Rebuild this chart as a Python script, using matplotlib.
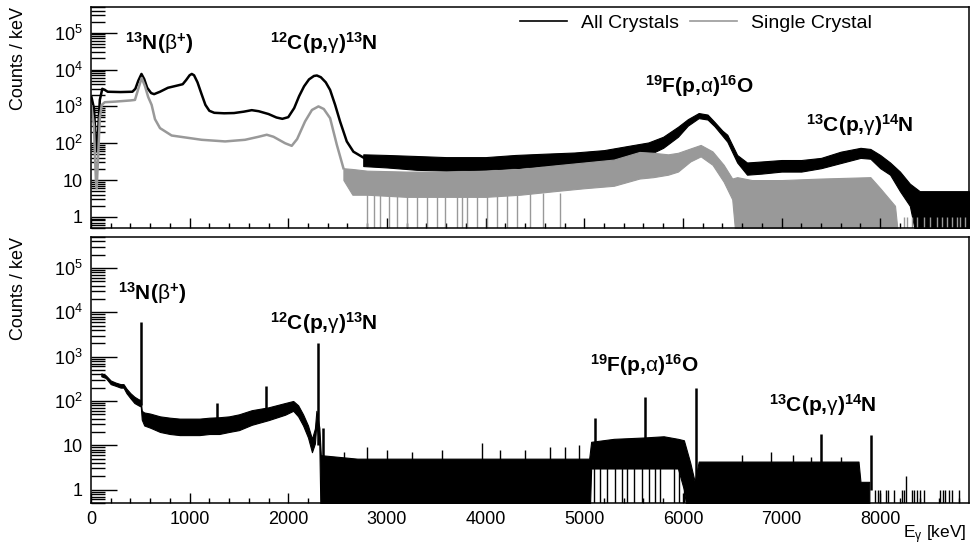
import numpy as np
import matplotlib.pyplot as plt
from matplotlib.lines import Line2D
from matplotlib.ticker import FixedLocator, MultipleLocator, LogLocator, FuncFormatter, NullFormatter

plt.rcParams['font.family'] = ['Liberation Sans', 'DejaVu Sans']
plt.rcParams['mathtext.fontset'] = 'custom'
plt.rcParams['mathtext.rm'] = 'Liberation Sans'
plt.rcParams['mathtext.bf'] = 'Liberation Sans:bold'
plt.rcParams['mathtext.it'] = 'Liberation Sans:italic'

# ---- top panel: all crystals (smooth part, keV / counts per keV)
all_E = [5, 30, 55, 70, 90, 115, 140, 170, 300, 420, 450, 480, 512, 540, 570, 610, 640, 700,
         780, 860, 930, 965, 1000, 1022, 1045, 1080, 1120, 1160, 1200, 1250, 1350, 1450, 1550,
         1630, 1700, 1800, 1880, 1940, 2000, 2060, 2110, 2160, 2210, 2260, 2290, 2330, 2380,
         2424, 2475, 2525, 2593, 2660, 2760]
all_val = [1800, 900, 60, 150, 1500, 3000, 2800, 2500, 2450, 2500, 3000, 5000, 7600, 5500, 3200,
           2300, 2150, 2500, 3200, 3600, 4000, 5200, 7000, 7600, 7000, 4500, 2200, 1100, 760, 670,
           650, 660, 720, 790, 740, 620, 500, 460, 510, 900, 1900, 3500, 5400, 6700, 6900, 6200,
           4500, 2800, 1100, 390, 112, 59, 41]

# all crystals, noisy part: lower / upper edge of the band
all_band_E = [2760, 3000, 3300, 3600, 4000, 4300, 4600, 4900, 5200, 5450, 5650, 5800, 5950, 6050,
              6160, 6250, 6320, 6400, 6450, 6550, 6650, 6800, 7000, 7200, 7400, 7600, 7800, 7900,
              8000, 8100, 8200, 8300, 8400, 8900]
all_band_lo = [24, 22, 19, 18, 19, 21, 24, 26, 30, 38, 48, 75, 150, 300, 480, 440, 290, 160, 110,
               30, 14, 15, 17, 17, 21, 29, 40, 38, 21, 14, 5, 2, 0.1, 0.1]
all_band_hi = [50, 48, 45, 42, 42, 48, 52, 56, 65, 85, 105, 150, 280, 450, 660, 600, 380, 220, 170,
               48, 30, 32, 35, 35, 40, 59, 75, 70, 48, 30, 17, 8, 5, 5]

# ---- top panel: single crystal
single_E = [5, 30, 50, 58, 70, 90, 110, 140, 250, 400, 446, 480, 514, 548, 580, 615, 649, 700,
            818, 1122, 1360, 1562, 1700, 1782, 1850, 1968, 2035, 2090, 2170, 2240, 2306, 2360,
            2424, 2492, 2559]
single_val = [1000, 300, 10, 6, 30, 500, 1100, 1300, 1350, 1450, 1500, 3000, 5900, 3500, 1800, 1100,
              450, 257, 162, 124, 112, 124, 150, 170, 150, 100, 85, 130, 390, 800, 1000, 850,
              480, 91, 21]

single_band_E = [2559, 2650, 2800, 3200, 3600, 4000, 4350, 4700, 5000, 5300, 5560, 5700, 5850, 5950,
                 6075, 6180, 6300, 6413, 6500, 6550, 6700, 7000, 7400, 7900, 8000, 8150, 8200]
single_band_lo = [10, 4, 4, 3.5, 3.5, 3.5, 4, 5, 6, 7, 11, 12, 14, 17, 32, 44, 26, 9, 3, 0.1, 0.1,
                  0.1, 0.1, 0.1, 0.1, 0.1, 0.1]
single_band_hi = [21, 20, 18, 17, 17, 18, 20, 25, 30, 36, 58, 55, 50, 55, 72, 90, 60, 26, 11, 12, 10,
                  10, 11, 12, 6, 2, 0.1]

# empty bins of the single crystal spectrum
single_empty_E = [2796, 2864, 2931, 3016, 3100, 3202, 3303, 3405, 3506, 3591, 3709, 3760, 3810,
                  3912, 4013, 4115, 4216, 4317, 4452, 4587, 4756]
# single counts above the endpoint
single_ones_E = [8238, 8272, 8323, 8374, 8441, 8509, 8577, 8627, 8678, 8729, 8779, 8813, 8864]

# ---- bottom panel (HPGe)
ge_E = [105, 150, 200, 250, 300, 330, 360, 400, 440, 480, 505, 515, 540, 600, 700, 800, 900, 1000,
        1100, 1200, 1300, 1400, 1500, 1630, 1800, 1968, 2050, 2100, 2150, 2200, 2240, 2270, 2285,
        2315, 2330, 2700, 3500, 4500, 5050, 5070, 5300, 5600, 5805, 5950, 6010, 6075, 6120, 6160,
        6600, 7200, 7780, 7800, 7880, 7890]
ge_lo = [360, 330, 240, 220, 200, 200, 150, 115, 90, 80, 75, 38, 28, 25, 20, 18, 17, 17, 17, 18,
         18, 20, 22, 29, 37, 49, 60, 45, 28, 15, 7, 11, 30, 10, 0.1, 0.1, 0.1, 0.1, 0.1, 3, 3, 3,
         3, 3, 1, 0.1, 0.1, 0.1, 0.1, 0.1, 0.1, 0.1, 0.1, 0.1]
ge_hi = [420, 380, 290, 260, 240, 240, 190, 150, 125, 110, 105, 60, 55, 52, 45, 42, 40, 40, 40, 42,
         43, 45, 50, 62, 72, 90, 100, 80, 50, 28, 14, 24, 60, 25, 6, 5, 5, 5, 5, 12, 14, 15, 16, 14,
         13, 4, 1.5, 4.3, 4.3, 4.3, 4.3, 1.5, 1.5, 1.5]

ge_peak_E = [511, 1281, 1779, 2300, 2350, 5107, 5618, 6130, 7397, 7907]
ge_peak_top = [6000, 89, 223, 2000, 24, 42, 120, 200, 18, 17]
ge_peak_base = [80, 25, 45, 10, 2, 10, 10, 1, 3, 1]

ge_spike_E = [2560, 2800, 3000, 3250, 3560, 3960, 4150, 4400, 4650, 4800, 4950,
              6600, 6890, 7120, 7300, 7600]
ge_spike_top = [7, 9, 8, 7, 8, 11, 8, 8, 9, 9, 10, 6, 7, 6, 5.5, 5.5]

ge_empty_E = [5095, 5162, 5230, 5314, 5382, 5432, 5500, 5584, 5652, 5720, 5771, 5906, 5957, 6008]

ge_ones_E = [7951, 7975, 8002, 8060, 8080, 8137, 8222, 8240, 8323, 8340, 8374, 8400, 8441,
             8611, 8640, 8661, 8700, 8729, 8796]
ge_twos_E = [8262]

labels = [r"$^{\mathbf{13}}\mathbf{N(}\mathrm{\beta}^{\mathbf{+}}\mathbf{)}$",
          r"$^{\mathbf{12}}\mathbf{C(p{,}}\mathrm{\gamma}\mathbf{)}^{\mathbf{13}}\mathbf{N}$",
          r"$^{\mathbf{19}}\mathbf{F(p{,}}\mathrm{\alpha}\mathbf{)}^{\mathbf{16}}\mathbf{O}$",
          r"$^{\mathbf{13}}\mathbf{C(p{,}}\mathrm{\gamma}\mathbf{)}^{\mathbf{14}}\mathbf{N}$"]
top_label_pos = [(345, 3.5e4), (1815, 3.5e4), (5620, 2300), (7250, 208)]
bot_label_pos = [(277, 1.9e4), (1815, 4000), (5061, 460), (6870, 57)]

black = 'black'
gray = '#999999'

fig = plt.figure(figsize=(9.78, 5.49), dpi=100)
ax1 = fig.add_axes([0.0930, 0.5847, 0.8978, 0.4026])
ax2 = fig.add_axes([0.0930, 0.0838, 0.8978, 0.4845])


def yfmt(v, pos):
    if v == 1:
        return '1'
    if v == 10:
        return '10'
    return r'$\mathregular{10^{%d}}$' % round(np.log10(v))


for ax in (ax1, ax2):
    ax.set_yscale('log')
    ax.set_ylim(0.5, 5e5)
    ax.set_xlim(0, 8900)
    ax.yaxis.set_major_locator(FixedLocator([1, 10, 1e2, 1e3, 1e4, 1e5]))
    ax.yaxis.set_minor_locator(LogLocator(base=10, subs=np.arange(2, 10), numticks=20))
    ax.yaxis.set_major_formatter(FuncFormatter(yfmt))
    ax.yaxis.set_minor_formatter(NullFormatter())
    ax.xaxis.set_major_locator(MultipleLocator(1000))
    ax.xaxis.set_minor_locator(MultipleLocator(200))
    ax.tick_params(axis='y', which='major', direction='in', length=19, width=1, labelsize=13, pad=6)
    ax.tick_params(axis='y', which='minor', direction='in', length=10, width=1)
    ax.tick_params(axis='x', which='major', direction='in', length=7, width=1, labelsize=13, pad=6)
    ax.tick_params(axis='x', which='minor', direction='in', length=3.5, width=1)
    for s in ax.spines.values():
        s.set_linewidth(1.1)
    ax.set_ylabel('Counts / keV', fontsize=13, loc='top')
    ax.yaxis.set_label_coords(-0.073, 1.0)

ax1.tick_params(axis='x', labelbottom=False)

# top panel
ax1.plot(all_E, all_val, color=black, lw=1.8)
ax1.fill_between(all_band_E, all_band_lo, all_band_hi, color=black, lw=0.8)
ax1.plot(single_E, single_val, color=gray, lw=1.8)
ax1.fill_between(single_band_E, single_band_lo, single_band_hi, color=gray, lw=0.8)
ax1.vlines(single_empty_E, 0.1, 4.5, color=gray, lw=1)
ax1.vlines(single_ones_E, 0.1, 1, color=gray, lw=1)

handles = [Line2D([], [], color=black, lw=1.2), Line2D([], [], color=gray, lw=1.2)]
ax1.legend(handles, ['All Crystals', 'Single Crystal'], ncol=2, frameon=False, fontsize=14,
           loc='center right', bbox_to_anchor=(0.889, 0.928), borderpad=0, borderaxespad=0,
           handlelength=2.4, handletextpad=0.7, columnspacing=0.6)

for lab, (x, y) in zip(labels, top_label_pos):
    ax1.text(x, y, lab, fontsize=15, ha='left', va='baseline')

# bottom panel
ax2.fill_between(ge_E, ge_lo, ge_hi, color=black, lw=0.8)
ax2.vlines(ge_peak_E, ge_peak_base, ge_peak_top, color=black, lw=1.8)
ax2.vlines(ge_spike_E, 1, ge_spike_top, color=black, lw=1)
ax2.vlines(ge_empty_E, 0.1, 3, color=black, lw=1)
ax2.vlines(ge_ones_E, 0.1, 1, color=black, lw=1)
ax2.vlines(ge_twos_E, 0.1, 2, color=black, lw=1)

for lab, (x, y) in zip(labels, bot_label_pos):
    ax2.text(x, y, lab, fontsize=15, ha='left', va='baseline')

ax2.set_xlabel(r'E$_{\mathrm{\gamma}}$ [keV]', fontsize=12.5, loc='right')
ax2.xaxis.set_label_coords(0.997, -0.078)

fig.savefig('out.png', dpi=100)
